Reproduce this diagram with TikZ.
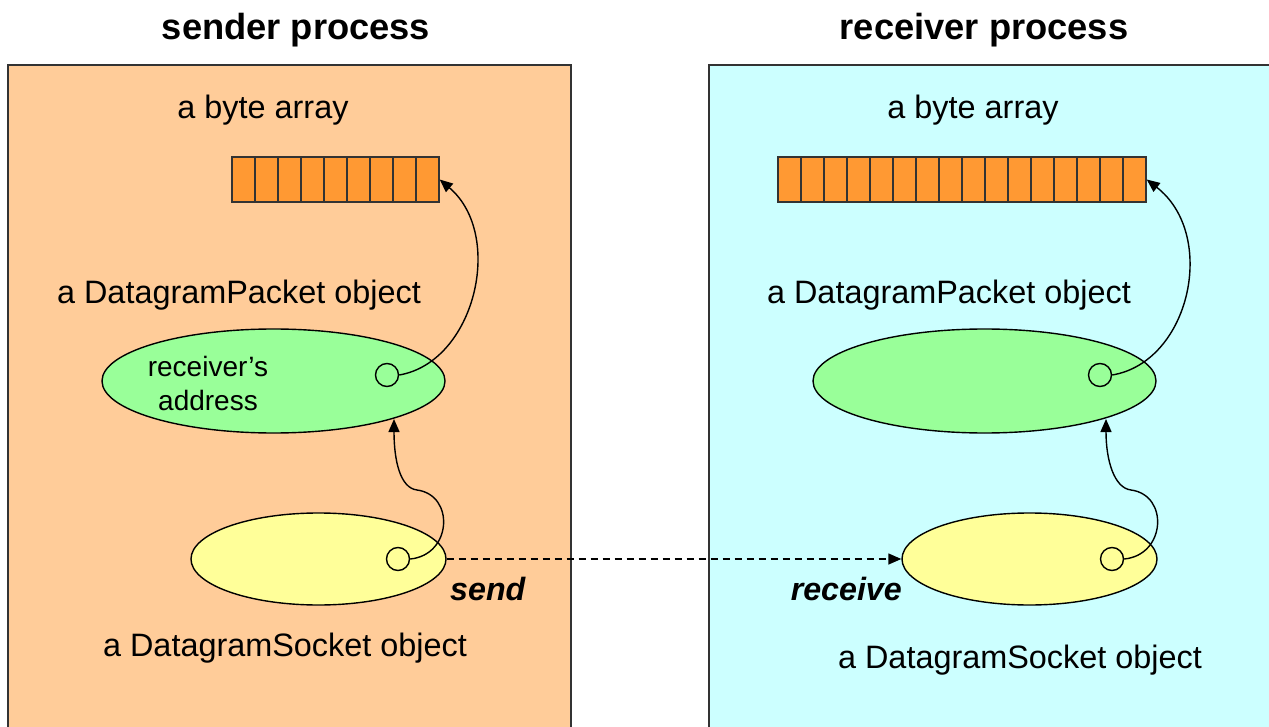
\documentclass[tikz,border=0pt]{standalone}
\usepackage{fontspec}
\setmainfont{Liberation Sans}
\usetikzlibrary{shapes.geometric,arrows.meta}
\definecolor{sendbg}{HTML}{FFCC99}
\definecolor{recvbg}{HTML}{CCFFFF}
\definecolor{cellc}{HTML}{FF9933}
\definecolor{pktc}{HTML}{99FF99}
\definecolor{sockc}{HTML}{FFFF99}
\definecolor{framec}{HTML}{333333}
\begin{document}
\begin{tikzpicture}[x=1pt,y=-1pt,
  procbox/.style={draw=framec,line width=2pt},
  title/.style={font=\fontsize{36.3}{40}\selectfont\bfseries,inner sep=0pt},
  lbl/.style={font=\fontsize{32.4}{36}\selectfont,inner sep=0pt},
  small/.style={font=\fontsize{28}{34}\selectfont,inner sep=0pt,align=center},
  act/.style={font=\fontsize{32.2}{36}\selectfont\bfseries\itshape,inner sep=0pt},
  pkt/.style={ellipse,draw,line width=1.4pt,fill=pktc,minimum width=343pt,minimum height=104pt,inner sep=0pt},
  sock/.style={ellipse,draw,line width=1.4pt,fill=sockc,minimum width=255pt,minimum height=92pt,inner sep=0pt},
  ref/.style={circle,draw,line width=1.4pt,minimum size=23pt,inner sep=0pt},
  arr/.style={draw=framec,line width=1.4pt,fill=cellc,minimum height=45pt,inner sep=0pt},
  link/.style={line width=1.4pt,-{Triangle[length=13pt,width=11pt]}},
  net/.style={line width=1.4pt,dash pattern=on 7pt off 5pt,-{Triangle[length=13pt,width=11pt]}}
]
\useasboundingbox (0,0) rectangle (1269,727);
\fill[white] (0,0) rectangle (1269,727);
% process boxes
\draw[procbox,fill=sendbg] (8,65) rectangle (571,745);
\draw[procbox,fill=recvbg] (709,65) rectangle (1300,745);
\node[title] (t1) at (296,30) {sender process};
\node[title] (t2) at (984,30) {receiver process};
% byte arrays
\node[lbl] (bl1) at (263,110) {a byte array};
\node[lbl] (bl2) at (973,110) {a byte array};
\node[arr,minimum width=207pt] (ba1) at (335.5,179.5) {};
\foreach \i in {1,...,8} \draw[framec,line width=1.4pt] (232+23*\i,157) -- (232+23*\i,202);
\node[arr,minimum width=368pt] (ba2) at (962,179.5) {};
\foreach \i in {1,...,15} \draw[framec,line width=1.4pt] (778+23*\i,157) -- (778+23*\i,202);
% packets
\node[lbl] (pl1) at (239,295) {a DatagramPacket object};
\node[lbl] (pl2) at (949,295) {a DatagramPacket object};
\node[pkt] (g1) at (273.5,381) {};
\node[pkt] (g2) at (984.5,381) {};
\node[small] (addr) at (208,383) {receiver’s\\address};
\node[ref] (c1) at (387,375) {};
\node[ref] (c2) at (1100,375) {};
% sockets
\node[sock] (y1) at (318.5,559) {};
\node[sock] (y2) at (1029.5,559) {};
\node[ref] (s1) at (398,559) {};
\node[ref] (s2) at (1112,559) {};
\node[lbl] (sl1) at (285,648) {a DatagramSocket object};
\node[lbl] (sl2) at (1020,660) {a DatagramSocket object};
\node[act,anchor=west] (send) at (450,589) {send};
\node[act,anchor=east] (recv) at (902,589) {receive};
% connectors
\coordinate (g1in) at (394,419);
\coordinate (g2in) at (1106,419);
\draw[link] (c1.east) .. controls (475,362) and (505,235) .. (ba1.east);
\draw[link] (c2.east) .. controls (1190,362) and (1218,235) .. (ba2.east);
\draw[link] (s1.east) .. controls (452,555) and (455,495) .. (417,490) .. controls (400,488) and (394,460) .. (g1in);
\draw[link] (s2.east) .. controls (1166,555) and (1169,495) .. (1131,490) .. controls (1114,488) and (1106,460) .. (g2in);
\draw[net] (y1.east) -- (y2.west);
\end{tikzpicture}
\end{document}
